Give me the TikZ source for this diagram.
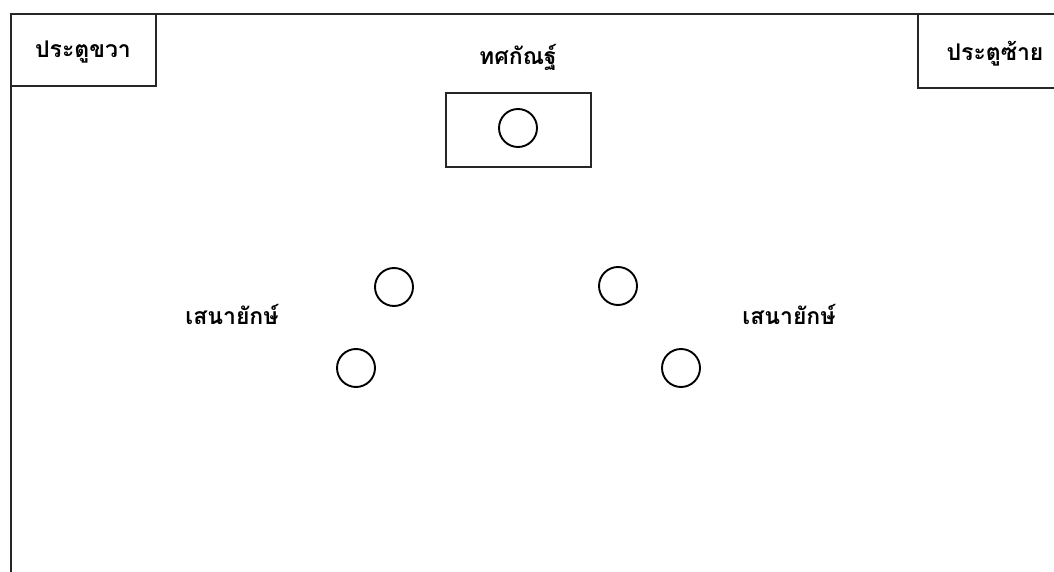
\documentclass[tikz,border=0pt]{standalone}
\usepackage{fontspec}
\newfontfamily\thaifont[Script=Thai]{Loma}
\begin{document}
\begin{tikzpicture}[x=1pt,y=-1pt,
  wall/.style={line width=1.9pt,black!85},
  actor/.style={circle,draw,line width=1.9pt,minimum size=38pt,inner sep=0pt},
  lbl/.style={font=\thaifont\bfseries\fontsize{23}{26}\selectfont,inner sep=0pt}]
\useasboundingbox (0,0) rectangle (1054,572);
% stage outline
\draw[wall] (1054,14) -- (11,14) -- (11,572);
% doors
\draw[wall] (11,86) -- (156,86) -- (156,14);
\draw[wall] (1054,88) -- (918,88) -- (918,14);
\node[lbl] (rdoor) at (83,52) {ประตูขวา};
\node[lbl] (ldoor) at (995,54) {ประตูซ้าย};
% Thotsakan on the throne
\node[lbl] (thos) at (518,57) {ทศกัณฐ์};
\draw[wall] (446,93) rectangle (591,167);
\node[actor] (king) at (518,128) {};
% the ogre attendants
\node[actor] (a1) at (394,287) {};
\node[actor] (a2) at (356,368) {};
\node[actor] (a3) at (618,286) {};
\node[actor] (a4) at (681,368) {};
\node[lbl] (sl) at (232,314) {เสนายักษ์};
\node[lbl] (sr) at (789,314) {เสนายักษ์};
\end{tikzpicture}
\end{document}
